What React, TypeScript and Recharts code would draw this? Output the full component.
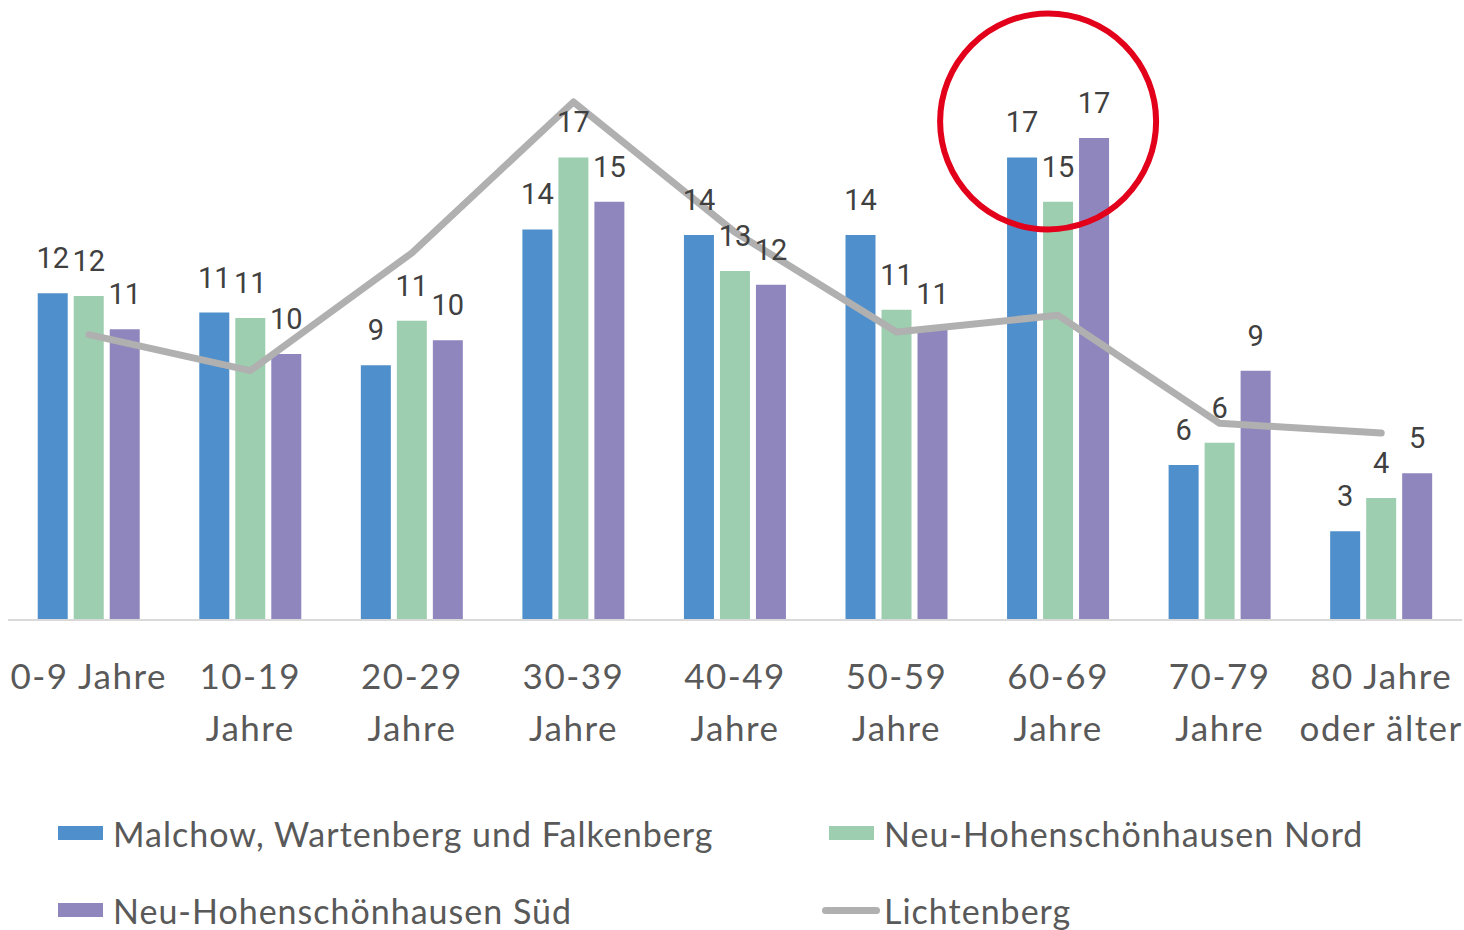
import React from 'react';
import { ComposedChart, Bar, Line, XAxis, YAxis, LabelList, ReferenceDot } from 'recharts';

const categories = ['0-9 Jahre', '10-19 Jahre', '20-29 Jahre', '30-39 Jahre', '40-49 Jahre', '50-59 Jahre', '60-69 Jahre', '70-79 Jahre', '80 Jahre oder älter'];
const tickLine1 = ['0-9 Jahre', '10-19', '20-29', '30-39', '40-49', '50-59', '60-69', '70-79', '80 Jahre'];
const tickLine2 = ['', 'Jahre', 'Jahre', 'Jahre', 'Jahre', 'Jahre', 'Jahre', 'Jahre', 'oder älter'];

const malchow = [11.8, 11.1, 9.2, 14.1, 13.9, 13.9, 16.7, 5.6, 3.2];
const nord = [11.7, 10.9, 10.8, 16.7, 12.6, 11.2, 15.1, 6.4, 4.4];
const sued = [10.5, 9.6, 10.1, 15.1, 12.1, 10.5, 17.4, 9.0, 5.3];
const lichtenberg = [10.3, 9.0, 13.25, 18.7, 14.0, 10.4, 11.0, 7.1, 6.75];

const seriesNames = ['Malchow, Wartenberg und Falkenberg', 'Neu-Hohenschönhausen Nord', 'Neu-Hohenschönhausen Süd', 'Lichtenberg'];
const seriesColors = ['#4F8FCC', '#9DCEB0', '#8F86BE', '#B0B0B0'];

const highlightCategory = '60-69 Jahre';
const highlightValue = 18;

const data = categories.map((c, i) => ({
  cat: c,
  malchow: malchow[i],
  nord: nord[i],
  sued: sued[i],
  lichtenberg: lichtenberg[i],
}));

const axisFont = 'Lato, "Open Sans", sans-serif';
const labelFont = 'Roboto, "Open Sans", sans-serif';

const AgeTick = (props: any) => {
  const { x, y, payload } = props;
  const idx = categories.indexOf(payload.value);
  return (
    <text x={x} y={y} textAnchor="middle" fill="#595959" fontFamily={axisFont} fontSize={35} letterSpacing={1.5}>
      <tspan x={x} dy={69}>{tickLine1[idx]}</tspan>
      {tickLine2[idx] ? <tspan x={x} dy={52}>{tickLine2[idx]}</tspan> : null}
    </text>
  );
};

const fmt = (v: any) => Math.round(Number(v));

const Ring = (props: any) => {
  const { cx, cy } = props;
  return <circle cx={cx - 10} cy={cy} r={108} fill="none" stroke="#E2001A" strokeWidth={6} />;
};

const legendItems = [
  { name: seriesNames[0], color: seriesColors[0], type: 'bar', left: 58, top: 833 },
  { name: seriesNames[1], color: seriesColors[1], type: 'bar', left: 829, top: 833 },
  { name: seriesNames[2], color: seriesColors[2], type: 'bar', left: 58, top: 910 },
  { name: seriesNames[3], color: seriesColors[3], type: 'line', left: 822, top: 910 },
];

export default function App() {
  return (
    <div style={{ position: 'absolute', left: 0, top: 0, width: 1464, height: 930, background: '#fff', fontFamily: axisFont }}>
      <ComposedChart
        width={1464}
        height={760}
        data={data}
        margin={{ top: 66, right: 2, bottom: 40, left: 8 }}
        barGap={6}
        barCategoryGap="18.4%"
      >
        <XAxis
          dataKey="cat"
          height={100}
          tick={<AgeTick />}
          tickLine={false}
          tickSize={0}
          tickMargin={0}
          interval={0}
          axisLine={{ stroke: '#D9D9D9', strokeWidth: 2 }}
        />
        <YAxis hide domain={[0, 20]} />
        <Bar dataKey="malchow" name={seriesNames[0]} fill={seriesColors[0]} isAnimationActive={false}>
          <LabelList dataKey="malchow" position="top" offset={25} formatter={fmt} fill="#404040" fontSize={29} fontFamily={labelFont} />
        </Bar>
        <Bar dataKey="nord" name={seriesNames[1]} fill={seriesColors[1]} isAnimationActive={false}>
          <LabelList dataKey="nord" position="top" offset={25} formatter={fmt} fill="#404040" fontSize={29} fontFamily={labelFont} />
        </Bar>
        <Bar dataKey="sued" name={seriesNames[2]} fill={seriesColors[2]} isAnimationActive={false}>
          <LabelList dataKey="sued" position="top" offset={25} formatter={fmt} fill="#404040" fontSize={29} fontFamily={labelFont} />
        </Bar>
        <Line
          dataKey="lichtenberg"
          name={seriesNames[3]}
          stroke={seriesColors[3]}
          strokeWidth={7}
          strokeLinecap="round"
          strokeLinejoin="round"
          dot={false}
          activeDot={false}
          isAnimationActive={false}
        />
        <ReferenceDot x={highlightCategory} y={highlightValue} r={108} shape={<Ring />} />
      </ComposedChart>
      {legendItems.map((it) => (
        <div
          key={it.name}
          style={{
            position: 'absolute',
            left: it.left,
            top: it.top - 25,
            height: 50,
            display: 'flex',
            alignItems: 'center',
            whiteSpace: 'nowrap',
            fontFamily: axisFont,
            fontSize: 34,
            letterSpacing: 1,
            color: '#595959',
          }}
        >
          {it.type === 'bar' ? (
            <span style={{ display: 'inline-block', width: 45, height: 14, background: it.color, marginRight: 10 }} />
          ) : (
            <span style={{ display: 'inline-block', width: 58, height: 7, borderRadius: 4, background: it.color, marginRight: 4 }} />
          )}
          <span>{it.name}</span>
        </div>
      ))}
    </div>
  );
}
